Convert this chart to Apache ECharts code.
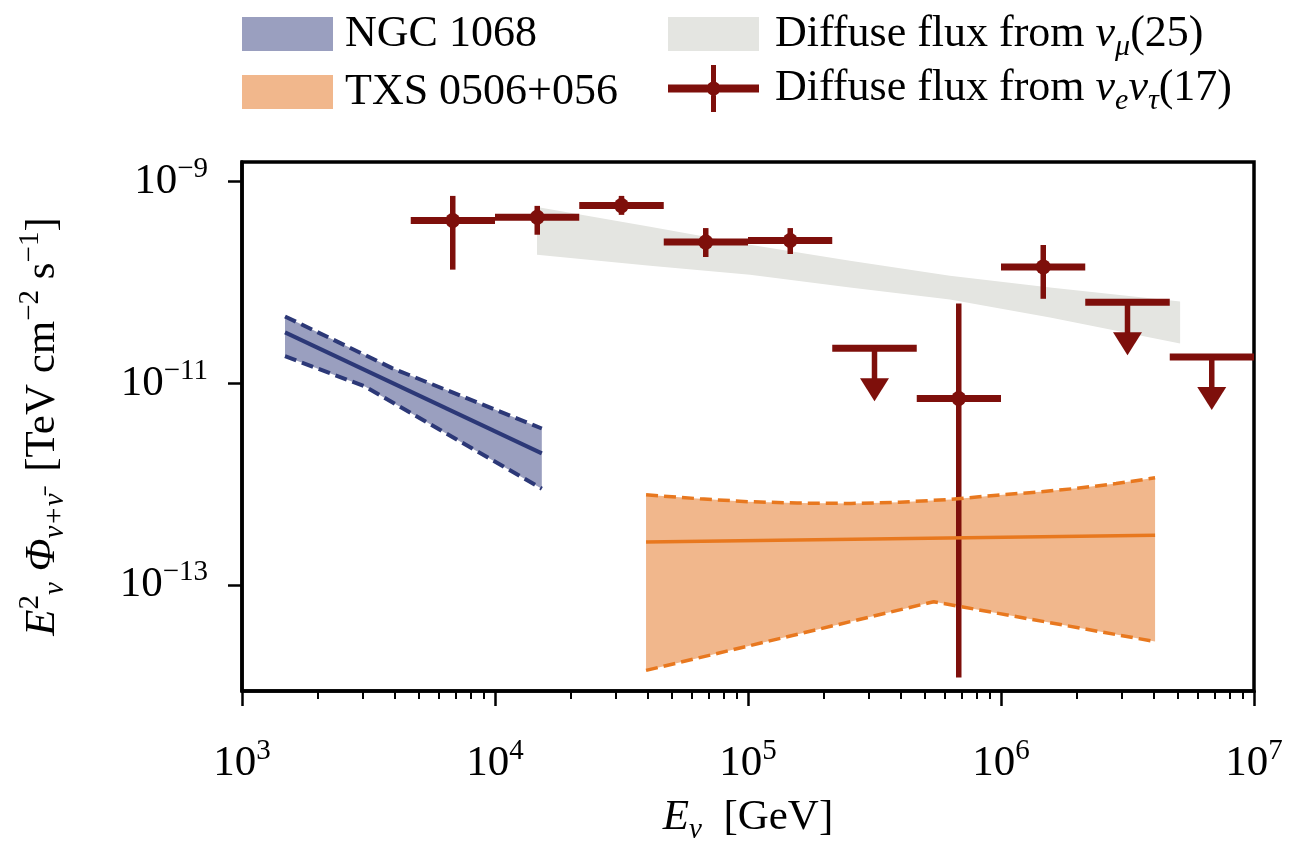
<!DOCTYPE html>
<html lang="en">
<head>
  <meta charset="UTF-8">
  <script src="https://cdn.jsdelivr.net/npm/echarts/dist/echarts.min.js"></script>
  <title>Neutrino flux</title>
  <style>
    html, body { margin: 0; padding: 0; background: #fff; }
    #chart { width: 1293px; height: 850px; }
  </style>
</head>
<body>
  <div id="chart"></div>
  <script>
    // all values are log10: energy in GeV, flux in TeV cm^-2 s^-1
    const xTicks = [3, 4, 5, 6, 7];
    const yTicks = [-9, -11, -13];

    // NGC 1068 band
    const ngcLogE = [3.170, 4.185];
    const ngcCentral = [-10.494, -11.693];
    const ngcUpperLogE = [3.170, 3.593, 4.185];
    const ngcUpper = [-10.336, -10.848, -11.447];
    const ngcLowerLogE = [3.170, 3.486, 4.185];
    const ngcLower = [-10.730, -11.030, -12.044];

    // TXS 0506+056 band
    const txsLogE = [4.597, 6.609];
    const txsCentral = [-12.571, -12.506];
    const txsUpperLogE = [4.597, 4.810, 5.000, 5.194, 5.407, 5.600, 5.800, 5.984, 6.154, 6.300, 6.455, 6.609];
    const txsUpper = [-12.104, -12.144, -12.172, -12.186, -12.190, -12.178, -12.150, -12.108, -12.075, -12.040, -11.993, -11.936];
    const txsLowerLogE = [4.597, 5.734, 6.609];
    const txsLower = [-13.845, -13.164, -13.559];

    // diffuse flux from numu (25)
    const numuLogE = [4.166, 4.613, 5.008, 5.403, 5.798, 6.194, 6.708];
    const numuUpper = [-9.250, -9.448, -9.626, -9.784, -9.932, -10.050, -10.189];
    const numuLower = [-9.724, -9.833, -9.922, -10.050, -10.169, -10.347, -10.604];

    // diffuse flux from nue nutau (17)
    const cascadeLogE = [3.833, 4.167, 4.5, 4.833, 5.167, 5.5, 5.833, 6.167, 6.5, 6.833];
    const cascadeLogELo = [3.667, 4.0, 4.333, 4.667, 5.0, 5.333, 5.667, 6.0, 6.333, 6.667];
    const cascadeLogEHi = [4.0, 4.333, 4.667, 5.0, 5.333, 5.667, 6.0, 6.333, 6.667, 7.0];
    const cascadeFlux = [-9.385, -9.352, -9.237, -9.599, -9.583, -10.652, -11.149, -9.845, -10.195, -10.738];
    const cascadeLo = [-9.872, -9.526, -9.329, -9.747, -9.717, null, -13.915, -10.161, null, null];
    const cascadeHi = [-9.141, -9.240, -9.141, -9.460, -9.460, null, -10.208, -9.628, null, null];
    const cascadeUL = [0, 0, 0, 0, 0, 1, 0, 0, 1, 1];

    const FONT = 'Liberation Serif';
    const RED = '#7e0f0b';

    const minorTicks = [];
    for (let n = 3; n < 7; n++) {
      for (let k = 2; k <= 9; k++) minorTicks.push(n + Math.log10(k));
    }

    const zip = (a, b) => a.map((v, i) => [v, b[i]]);

    function band(upE, up, loE, lo, color) {
      return function (params, api) {
        if (params.dataIndex !== 0) return;
        const pts = [];
        upE.forEach((e, i) => pts.push(api.coord([e, up[i]])));
        for (let i = loE.length - 1; i >= 0; i--) pts.push(api.coord([loE[i], lo[i]]));
        return { type: 'polygon', shape: { points: pts }, style: { fill: color } };
      };
    }

    function edge(data, color, width, dashed) {
      return {
        type: 'line', data: data, symbol: 'none', silent: true,
        lineStyle: { color: color, width: width, type: dashed ? [12, 6] : 'solid' }
      };
    }

    function renderCascade(params, api) {
      const x = api.value(0), y = api.value(1);
      const c = api.coord([x, y]);
      const l = api.coord([api.value(4), y]);
      const r = api.coord([api.value(5), y]);
      const kids = [{
        type: 'line', shape: { x1: l[0], y1: c[1], x2: r[0], y2: c[1] },
        style: { stroke: RED, lineWidth: 7 }
      }];
      if (api.value(6)) {
        kids.push({
          type: 'line', shape: { x1: c[0], y1: c[1], x2: c[0], y2: c[1] + 33 },
          style: { stroke: RED, lineWidth: 5.5 }
        });
        kids.push({
          type: 'polygon',
          shape: { points: [[c[0] - 14.5, c[1] + 30], [c[0] + 14.5, c[1] + 30], [c[0], c[1] + 53]] },
          style: { fill: RED }
        });
      } else {
        const top = api.coord([x, api.value(3)]);
        const bot = api.coord([x, api.value(2)]);
        kids.push({
          type: 'line', shape: { x1: c[0], y1: top[1], x2: c[0], y2: bot[1] },
          style: { stroke: RED, lineWidth: 5.5 }
        });
        kids.push({ type: 'circle', shape: { cx: c[0], cy: c[1], r: 7.5 }, style: { fill: RED } });
      }
      return { type: 'group', children: kids };
    }

    const cascadeData = cascadeLogE.map((e, i) => [
      e, cascadeFlux[i],
      cascadeLo[i] == null ? cascadeFlux[i] : cascadeLo[i],
      cascadeHi[i] == null ? cascadeFlux[i] : cascadeHi[i],
      cascadeLogELo[i], cascadeLogEHi[i], cascadeUL[i]
    ]);

    const tickRich = {
      b: { fontFamily: FONT, fontSize: 43, lineHeight: 54, color: '#000' },
      s: { fontFamily: FONT, fontSize: 29, lineHeight: 29, verticalAlign: 'top', color: '#000' }
    };
    const nameRich = {
      i: { fontFamily: FONT, fontSize: 43, lineHeight: 54, fontStyle: 'italic', color: '#000' },
      t: { fontFamily: FONT, fontSize: 43, lineHeight: 54, color: '#000' },
      sup: { fontFamily: FONT, fontSize: 29, lineHeight: 29, verticalAlign: 'top', color: '#000' },
      sub: { fontFamily: FONT, fontSize: 29, lineHeight: 29, verticalAlign: 'bottom', fontStyle: 'italic', color: '#000' }
    };
    const legendRich = {
      t: { fontFamily: FONT, fontSize: 44, lineHeight: 56, color: '#000' },
      g: { fontFamily: FONT, fontSize: 44, lineHeight: 56, fontStyle: 'italic', color: '#000' },
      s: { fontFamily: FONT, fontSize: 30, lineHeight: 30, verticalAlign: 'bottom', fontStyle: 'italic', color: '#000' }
    };
    const legendText = {
      ngc: '{t|NGC 1068}',
      txs: '{t|TXS 0506+056}',
      numu: '{t|Diffuse flux from }{g|ν}{s|μ}{t|(25)}',
      cascade: '{t|Diffuse flux from }{g|ν}{s|e}{g|ν}{s|τ}{t|(17)}'
    };
    const crossIcon = 'path://M0,19.5H91V27.5H0Z M43,0H48V47H43Z M38.5,23.5a7,7 0 1,1 14,0a7,7 0 1,1 -14,0Z';

    function legend(name, left, top, icon, color, w, h, pad) {
      return {
        left: left, top: top, padding: 0, itemWidth: w, itemHeight: h, selectedMode: false,
        data: [{ name: name, icon: icon, itemStyle: { color: color } }],
        formatter: n => legendText[n],
        textStyle: { fontFamily: FONT, fontSize: 44, padding: [0, 0, 0, pad], rich: legendRich }
      };
    }

    const chart = echarts.init(document.getElementById('chart'));
    chart.setOption({
      animation: false,
      backgroundColor: '#fff',
      legend: [
        legend('ngc', 242, 12, 'rect', '#9a9fbf', 91, 34, 7),
        legend('txs', 242, 70, 'rect', '#f1b78c', 91, 34, 7),
        legend('numu', 668, 12, 'rect', '#e4e5e1', 91, 34, 11),
        legend('cascade', 668, 65, crossIcon, RED, 91, 47, 11)
      ],
      grid: {
        left: 242, top: 162, width: 1012, height: 531,
        show: true, borderColor: '#000', borderWidth: 3.5, backgroundColor: 'transparent'
      },
      xAxis: [{
        type: 'value', min: 3, max: 7, interval: 1,
        name: '{i|E}{sub|ν}{t|  [GeV]}', nameLocation: 'middle', nameGap: 100,
        nameTextStyle: { rich: nameRich },
        axisLine: { lineStyle: { color: '#000', width: 3.5 } },
        axisTick: { length: 15, lineStyle: { color: '#000', width: 2.5 } },
        axisLabel: {
          margin: 46,
          formatter: v => '{b|10}{s|' + v + '}',
          rich: tickRich
        },
        splitLine: { show: false }
      }, {
        type: 'value', min: 3, max: 7, position: 'bottom',
        axisLine: { show: false },
        axisTick: { show: true, customValues: minorTicks, length: 8, lineStyle: { color: '#000', width: 2 } },
        axisLabel: { show: false },
        splitLine: { show: false }
      }],
      yAxis: {
        type: 'value', min: -14.049, max: -8.805,
        name: '{i|E}{sup|2}{sub|ν}{i| Φ}{sub|ν+ν̄}{t|  [TeV cm}{sup|−2}{t| s}{sup|−1}{t|]}',
        nameLocation: 'middle', nameRotate: 90, nameGap: 172,
        nameTextStyle: { rich: nameRich },
        axisLine: { lineStyle: { color: '#000', width: 3.5 } },
        axisTick: { length: 14, customValues: yTicks, lineStyle: { color: '#000', width: 2.5 } },
        axisLabel: {
          margin: 34, customValues: yTicks,
          formatter: v => '{b|10}{s|−' + (-v) + '}',
          rich: tickRich
        },
        splitLine: { show: false }
      },
      series: [
        {
          name: 'numu', type: 'custom', clip: true, silent: true,
          itemStyle: { color: '#e4e5e1' },
          renderItem: band(numuLogE, numuUpper, numuLogE, numuLower, '#e4e5e1'),
          data: [[numuLogE[0], numuUpper[0]]]
        },
        {
          name: 'ngc', type: 'custom', clip: true, silent: true,
          itemStyle: { color: '#9a9fbf' },
          renderItem: band(ngcUpperLogE, ngcUpper, ngcLowerLogE, ngcLower, '#9a9fbf'),
          data: [[ngcLogE[0], ngcUpper[0]]]
        },
        edge(zip(ngcUpperLogE, ngcUpper), '#2c3877', 4, true),
        edge(zip(ngcLowerLogE, ngcLower), '#2c3877', 4, true),
        edge(zip(ngcLogE, ngcCentral), '#2c3877', 4, false),
        {
          name: 'txs', type: 'custom', clip: true, silent: true,
          itemStyle: { color: '#f1b78c' },
          renderItem: band(txsUpperLogE, txsUpper, txsLowerLogE, txsLower, '#f1b78c'),
          data: [[txsLogE[0], txsUpper[0]]]
        },
        edge(zip(txsUpperLogE, txsUpper), '#e8781f', 3.5, true),
        edge(zip(txsLowerLogE, txsLower), '#e8781f', 3.5, true),
        edge(zip(txsLogE, txsCentral), '#e8781f', 3.5, false),
        {
          name: 'cascade', type: 'custom', clip: true, silent: true,
          itemStyle: { color: RED },
          renderItem: renderCascade,
          data: cascadeData
        }
      ]
    });
  </script>
</body>
</html>
